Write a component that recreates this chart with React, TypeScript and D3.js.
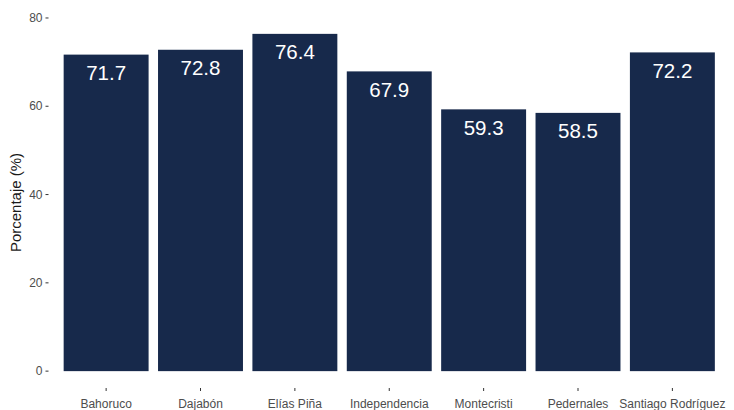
import React from "react"
import * as d3 from "d3"

const provinces = [
  "Bahoruco",
  "Dajabón",
  "Elías Piña",
  "Independencia",
  "Montecristi",
  "Pedernales",
  "Santiago Rodríguez",
]
const values = [71.7, 72.8, 76.4, 67.9, 59.3, 58.5, 72.2]
const yTicks = [0, 20, 40, 60, 80]

const W = 734
const H = 410

export default function App() {
  const left = 49.5
  const right = 729
  const top = 17
  const bottom = 388

  const yMax = d3.max(values) as number
  const pad = yMax * 0.05
  // panel reaches a little past 80 so the top tick sits inside
  const y = d3
    .scaleLinear()
    .domain([-pad, Math.max(yMax + pad, 80.2)])
    .range([bottom, top])

  const x = d3
    .scaleBand()
    .domain(provinces)
    .range([left, right])
    .paddingInner(0.1)
    .paddingOuter(0.15)

  const font = "Liberation Sans, Arial, sans-serif"
  const axisCol = "#4d4d4d"

  return (
    <svg
      width={W}
      height={H}
      style={{ position: "absolute", left: 0, top: 0, background: "white" }}
      fontFamily={font}
    >
      {provinces.map((p, i) => {
        const cx = (x(p) as number) + x.bandwidth() / 2
        return (
          <g key={p}>
            <rect
              x={x(p)}
              y={y(values[i])}
              width={x.bandwidth()}
              height={y(0) - y(values[i])}
              fill="#17294b"
            />
            <text
              x={cx}
              y={y(values[i]) + 25.5}
              textAnchor="middle"
              fontSize={20.5}
              fill="white"
            >
              {values[i].toFixed(1)}
            </text>
            <line x1={cx} x2={cx} y1={bottom} y2={bottom + 3} stroke="#333" />
            <text
              x={cx}
              y={bottom + 20}
              textAnchor="middle"
              fontSize={12}
              fill={axisCol}
            >
              {p}
            </text>
          </g>
        )
      })}

      {yTicks.map(t => (
        <g key={t}>
          <line x1={left - 4} x2={left - 1} y1={y(t)} y2={y(t)} stroke="#333" />
          <text
            x={left - 7}
            y={y(t)}
            dy="0.35em"
            textAnchor="end"
            fontSize={12}
            fill={axisCol}
          >
            {t}
          </text>
        </g>
      ))}

      <text
        transform={`translate(21, ${(top + bottom) / 2}) rotate(-90)`}
        textAnchor="middle"
        fontSize={15}
        fill="#1a1a1a"
      >
        Porcentaje (%)
      </text>
    </svg>
  )
}
